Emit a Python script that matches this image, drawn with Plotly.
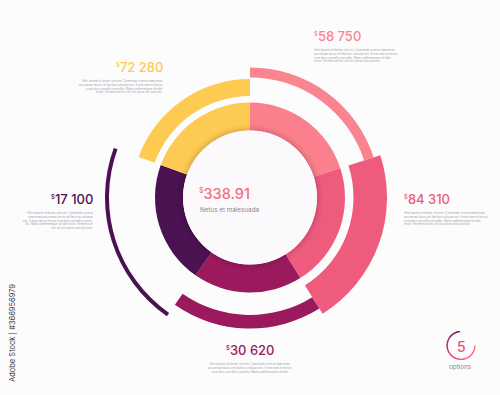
import plotly.graph_objects as go

# ---- data ----
labels = ["$58 750", "$84 310", "$30 620", "$17 100", "$72 280"]
values = [58750, 84310, 30620, 17100, 72280]
seg_span = [72, 76, 67, 75, 70]            # degrees of inner ring segments
arc_base = [120, 103.5, 117.5, 141, 101.5]   # outer arc inner radius
arc_thick = [10, 33.5, 13.5, 4, 17]          # outer arc thickness
ring_colors = ["#F9808C", "#EE5B7D", "#9B1A5E", "#4B1252", "#FDCB51"]
arc_colors = ["#FA8490", "#EF5B7D", "#9B1A5E", "#4B1252", "#FDCB51"]
total_label = "338.91"
total_sub = "Netus et malesuada"
n_options = 5
lorem = ("Velit laoreet id donec ultrices. Commodo viverra maecenas<br>"
         "accumsan lacus vel facilisis volutpat est. A erat nam at lectus<br>"
         "urna duis convallis convallis. Mattis pellentesque id nibh<br>"
         "tortor. Fermentum leo vel orci porta non pulvinar.")
lorem5 = ("Velit laoreet id donec ultrices. Commodo viverra<br>"
          "maecenas accumsan lacus vel facilisis volutpat<br>"
          "est. A erat nam at lectus urna duis convallis conva-<br>"
          "llis. Mattis pellentesque id nibh tortor. Fermentum<br>"
          "leo vel orci porta non pulvinar.")
lorem3 = ("Velit laoreet id donec ultrices. Commodo viverra maecenas<br>"
          "accumsan lacus vel facilisis volutpat est. A erat nam at lectus<br>"
          "urna duis convallis convallis. Mattis pellentesque id nibh")

W, H = 500, 395
CX, CY, R = 250, 197.5, 150
DISK_R, RING_T = 67, 28

starts = [sum(seg_span[:i]) for i in range(len(seg_span))]
centers = [s + w / 2 for s, w in zip(starts, seg_span)]

fig = go.Figure()

# outer arcs (magenta drawn first so pink overlaps it)
order = [2, 0, 3, 4, 1]
for i in order:
    fig.add_trace(go.Barpolar(theta=[centers[i]], r=[arc_thick[i]], base=[arc_base[i]],
                              width=[seg_span[i]], marker_color=arc_colors[i],
                              marker_line_width=0, hoverinfo="skip", showlegend=False))

# inner ring
fig.add_trace(go.Barpolar(theta=centers, r=[RING_T] * 5, base=[DISK_R] * 5, width=seg_span,
                          marker_color=ring_colors, marker_line_width=0,
                          hoverinfo="skip", showlegend=False))
# soft shadow around disk
for k, a in zip([6, 4, 2.5, 1.2], [0.025, 0.03, 0.035, 0.045]):
    fig.add_trace(go.Barpolar(theta=[180], r=[k], base=[DISK_R], width=[360],
                              marker_color=f"rgba(40,0,30,{a})", marker_line_width=0,
                              hoverinfo="skip", showlegend=False))
# central disk
fig.add_trace(go.Barpolar(theta=[180], r=[DISK_R], base=[0], width=[360],
                          marker_color="#FBF9FB", marker_line_width=0,
                          hoverinfo="skip", showlegend=False))

# options icon arc (gradient)
grad = ["#5A1456", "#7A1A5C", "#9B1D62", "#B62266", "#CF2E6B", "#E23C72",
        "#EC4B77", "#F2587C", "#F56280", "#F66A84", "#F77086"]
icon_start, icon_span = 355, 265
step = icon_span / len(grad)
for j, c in enumerate(grad):
    th = icon_start - step * (j + 0.5)
    fig.add_trace(go.Barpolar(theta=[th], r=[1.5], base=[13.2], width=[step + 0.5],
                              marker_color=c, marker_line_width=0, subplot="polar2",
                              hoverinfo="skip", showlegend=False))

ax_off = dict(showgrid=False, showticklabels=False, showline=False, ticks="")
fig.update_layout(
    width=W, height=H, margin=dict(l=0, r=0, t=0, b=0),
    paper_bgcolor="#FDFCFD", plot_bgcolor="#FDFCFD",
    polar=dict(domain=dict(x=[(CX - R) / W, (CX + R) / W],
                           y=[(H - CY - R) / H, (H - CY + R) / H]),
               bgcolor="rgba(0,0,0,0)",
               radialaxis=dict(range=[0, R], **ax_off),
               angularaxis=dict(rotation=90, direction="clockwise", **ax_off)),
    polar2=dict(domain=dict(x=[446 / W, 476 / W], y=[(H - 345.5 - 15) / H, (H - 345.5 + 15) / H]),
                bgcolor="rgba(0,0,0,0)",
                radialaxis=dict(range=[0, 15], **ax_off),
                angularaxis=dict(rotation=90, direction="clockwise", **ax_off)),
)

FONT = "Inter"

def ann(text, x, y, size, color, xanchor="left", align="left", weight=500):
    fig.add_annotation(text=text, x=x / W, y=1 - y / H, xref="paper", yref="paper",
                       xanchor=xanchor, yanchor="middle", align=align, showarrow=False,
                       font=dict(family=FONT, size=size, color=color, weight=weight))

def money(s, dsize):
    return f"<sup><span style='font-size:{dsize}px'>$</span></sup>" + s.lstrip("$")

gray = "#A19DAC"
LS = 2.9
# value labels
ann(money(labels[4], 6), 165, 67, 13, arc_colors[4], "right", "right")
ann(lorem, 165, 86.5, LS, gray, "right", "right", 400)
ann(money(labels[0], 6), 312, 36, 13, arc_colors[0])
ann(lorem, 312, 56, LS, gray, "left", "left", 400)
ann(money(labels[1], 6), 402, 199, 13, arc_colors[1])
ann(lorem, 402, 218.5, LS, gray, "left", "left", 400)
ann(money(labels[3], 6), 95, 199, 13, arc_colors[3], "right", "right")
ann(lorem5, 95, 220.5, LS, gray, "right", "right", 400)
ann(money(labels[2], 6), 250, 350, 13, arc_colors[2], "center", "center")
ann(lorem3, 250, 368, LS, gray, "center", "center", 400)

# centre
ann(money(total_label, 7), 197, 193.5, 14.5, "#F2707F")
ann(total_sub, 198, 209.5, 6.3, "#8A8594", "left", "left", 400)

# options icon
ann(str(n_options), 461, 346.5, 14, "#EE4F78", "center", "center")
ann("options", 460, 367, 6.3, "#8A8594", "center", "center", 400)

# side credit
fig.add_annotation(text="Adobe Stock | #366956979", x=12 / W, y=1 - 333 / H,
                   xref="paper", yref="paper", textangle=-90, showarrow=False,
                   xanchor="center", yanchor="middle",
                   font=dict(family=FONT, size=7.5, color="#3A3A3A"))

fig.write_html("out.html", config={"displayModeBar": False},
               post_script="document.body.style.margin='0';")
